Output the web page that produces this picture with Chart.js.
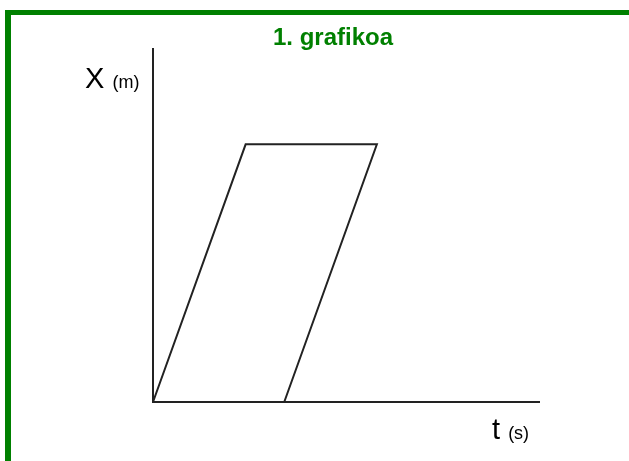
<!DOCTYPE html>
<html>
<head>
<meta charset="utf-8">
<script src="https://cdn.jsdelivr.net/npm/chart.js@4.4.0/dist/chart.umd.min.js"></script>
<style>
  html, body { margin: 0; padding: 0; background: #fff; overflow: hidden; }
  #wrap { position: relative; width: 629px; height: 461px; font-family: "Liberation Sans", Arial, sans-serif; }
  #frame {
    position: absolute; left: 5px; top: 10px; right: -20px; bottom: -20px;
    border-left: 6px solid #008000; border-top: 5px solid #008000;
  }
  #chart { position: absolute; left: 0; top: 0; }
  .lbl { position: absolute; line-height: 1; white-space: nowrap; color: #000; }
  #title { left: 273px; top: 25px; font-size: 24px; font-weight: bold; color: #008000; }
  #ylab { left: 85px; top: 63.5px; font-size: 29px; }
  #xlab { left: 492px; top: 414.5px; font-size: 29px; }
  .unit { font-size: 18px; }
</style>
</head>
<body>
<div id="wrap">
  <div id="frame"></div>
  <canvas id="chart" width="629" height="461"></canvas>
  <div class="lbl" id="title">1. grafikoa</div>
  <div class="lbl" id="ylab">X <span class="unit">(m)</span></div>
  <div class="lbl" id="xlab">t <span class="unit">(s)</span></div>
</div>
<script>
/**********************************
  DATA
**********************************/
// time (s) and position (m) of the path, in drawing order
const times     = [0, 2.4, 5.8, 3.4];
const positions = [0, 7.3, 7.3, 0];

// axis ranges (no tick labels on the original)
const tRange = [0, 10];
const xRange = [0, 10];

const LINE_COLOR = '#222222';

/**********************************
  CHART
**********************************/
const points = times.map((t, i) => ({ x: t, y: positions[i] }));

const axisOpts = (range) => ({
  type: 'linear',
  min: range[0],
  max: range[1],
  ticks: { display: false },
  grid: { display: false, drawTicks: false },
  border: { display: true, color: LINE_COLOR, width: 2 }
});

new Chart(document.getElementById('chart'), {
  type: 'scatter',
  data: {
    datasets: [{
      data: points,
      showLine: true,
      borderColor: LINE_COLOR,
      borderWidth: 2,
      pointRadius: 0,
      tension: 0,
      clip: false
    }]
  },
  options: {
    responsive: false,
    animation: false,
    layout: { padding: { left: 153, right: 90, top: 49, bottom: 59 } },
    plugins: { legend: { display: false }, tooltip: { enabled: false }, title: { display: false } },
    scales: {
      x: axisOpts(tRange),
      y: axisOpts(xRange)
    }
  }
});
</script>
</body>
</html>
